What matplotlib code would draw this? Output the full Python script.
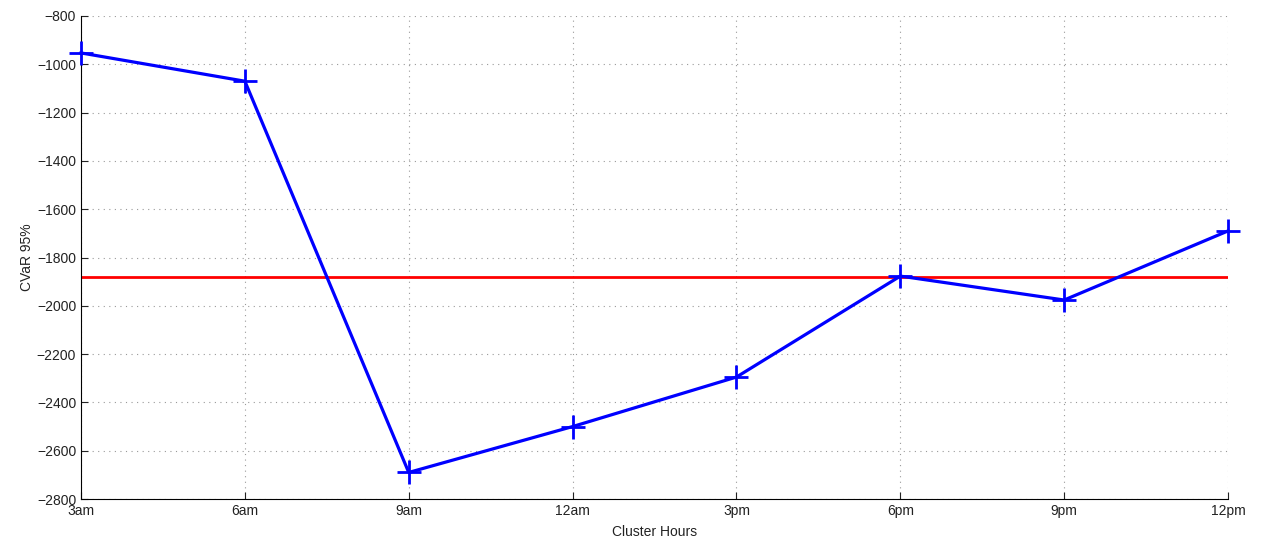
import numpy as np
import matplotlib
matplotlib.use('Agg')
from matplotlib import pyplot as plt

# data
hours = ['3am', '6am', '9am', '12am', '3pm', '6pm', '9pm', '12pm']
cvar = [-953, -1070, -2690, -2500, -2295, -1877, -1976, -1690]
baseline = -1882

plt.rcParams['font.family'] = ['Liberation Sans', 'DejaVu Sans']

fig = plt.figure(figsize=(12.66, 5.42), dpi=100)
ax = fig.add_axes([0.064, 0.0793, 0.906, 0.8912])

x = np.arange(len(hours))
ax.plot(x, [baseline] * len(hours), color='red', linewidth=2, zorder=2)
ax.plot(x, cvar, color='blue', linewidth=2.3, marker='+', markersize=17,
        markeredgewidth=2, zorder=3, clip_on=False)

ax.set_xlim(0, len(hours) - 1)
ax.set_ylim(-2800, -800)
ax.set_xticks(x)
ax.set_xticklabels(hours)
ax.set_yticks(np.arange(-2800, -799, 200))
ax.set_yticklabels([str(v).replace('-', '\u2212') for v in range(-2800, -799, 200)])

ax.grid(True, linestyle=(0, (1, 4)), color='#999999', linewidth=0.8)
ax.spines['top'].set_visible(False)
ax.spines['right'].set_visible(False)
ax.tick_params(direction='in', length=5, labelsize=10, colors='#222222')

ax.set_xlabel('Cluster Hours', fontsize=10, color='#222222', labelpad=5)
ax.set_ylabel('CVaR 95%', fontsize=10, color='#222222', labelpad=2)

plt.savefig('out.png', dpi=100)
